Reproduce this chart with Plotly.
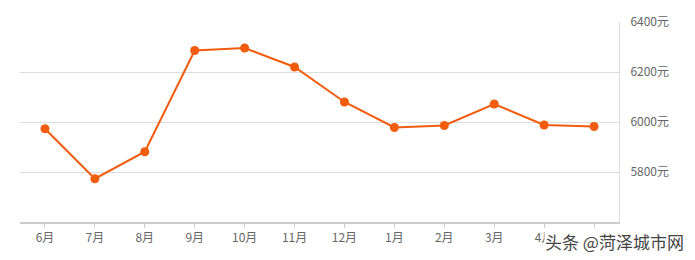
import plotly.graph_objects as go

months = ["6月", "7月", "8月", "9月", "10月", "11月", "12月", "1月", "2月", "3月", "4月", "5月"]
prices = [5973, 5773, 5881, 6286, 6296, 6220, 6080, 5978, 5986, 6072, 5988, 5982]
y_ticks = [5800, 6000, 6200, 6400]
y_labels = ["5800元", "6000元", "6200元", "6400元"]

fig = go.Figure()
fig.add_trace(go.Scatter(
    x=list(range(len(months))), y=prices, mode="lines+markers",
    line=dict(color="#f25c0e", width=2),
    marker=dict(color="#f25c0e", size=9),
    hoverinfo="skip",
))

fig.update_layout(
    width=695, height=260,
    margin=dict(l=20, r=76, t=22, b=38),
    paper_bgcolor="white", plot_bgcolor="white",
    showlegend=False,
    font=dict(family="Noto Sans CJK SC", size=12, color="#666"),
    xaxis=dict(
        range=[-0.5, len(months) - 0.5],
        tickmode="array", tickvals=list(range(len(months))), ticktext=months,
        showgrid=False, zeroline=False,
        showline=True, linecolor="#cccccc", linewidth=2,
        ticks="outside", ticklen=4, tickcolor="#cccccc", tickwidth=1,
        tickfont=dict(size=12, color="#666"),
    ),
    yaxis=dict(
        range=[5600, 6400], side="right",
        tickmode="array", tickvals=y_ticks, ticktext=y_labels,
        showgrid=True, gridcolor="#dddddd", gridwidth=1,
        zeroline=False,
        showline=True, linecolor="#dddddd", linewidth=1,
        ticks="", ticklabelstandoff=8,
        tickfont=dict(size=12, color="#666"),
    ),
)

fig.add_annotation(
    xref="paper", yref="paper", x=1.11, y=-0.095,
    xanchor="right", yanchor="middle",
    text="头条 @菏泽城市网", showarrow=False,
    font=dict(family="Noto Sans CJK SC", size=17, color="#444"),
    bgcolor="white", borderpad=0,
)

fig.write_html("out.html")
